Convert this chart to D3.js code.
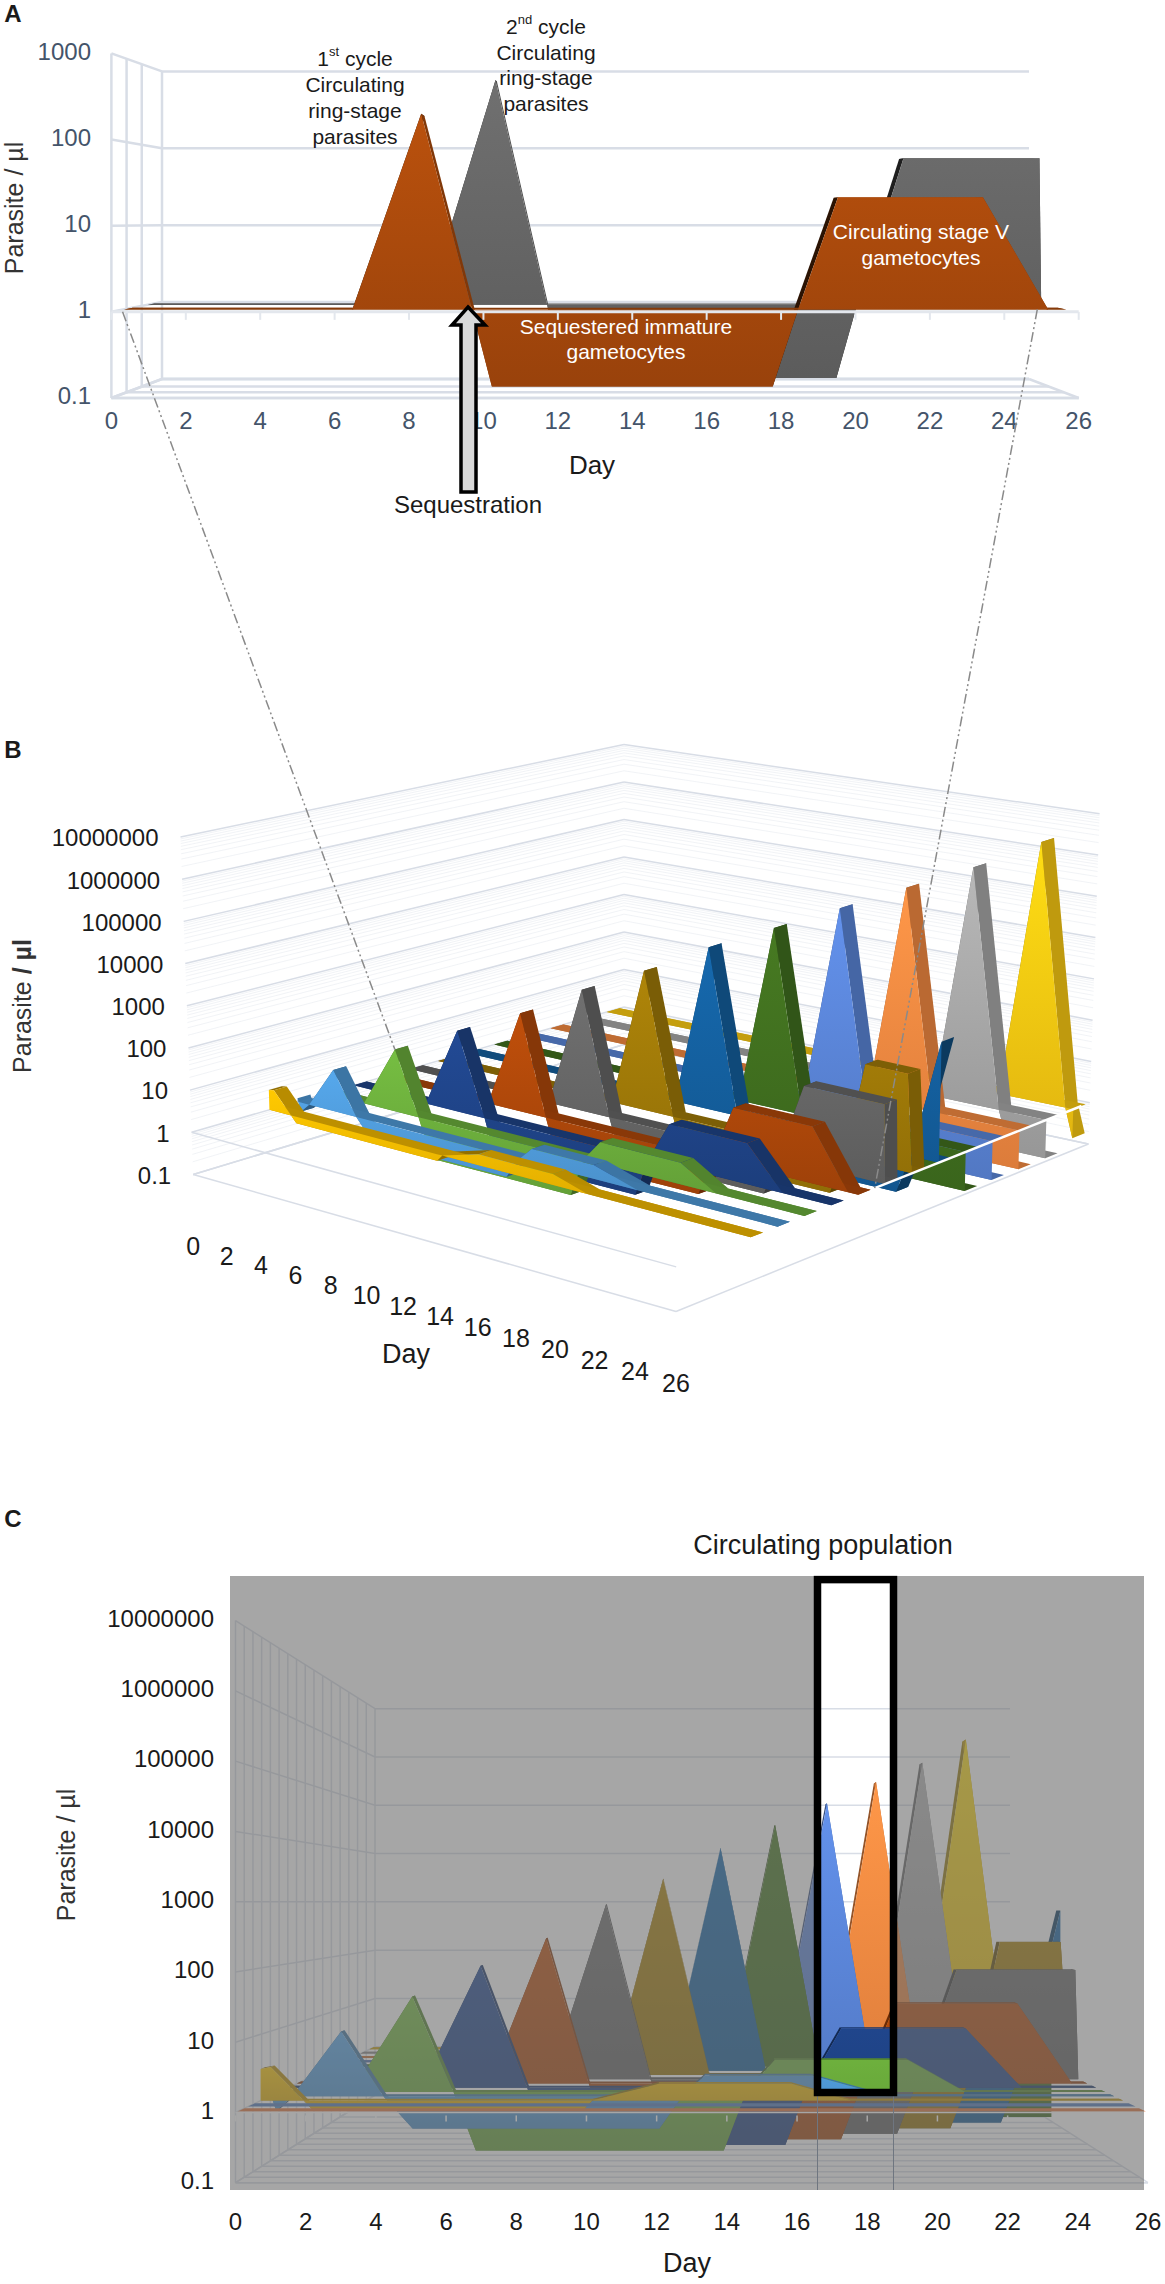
<!DOCTYPE html>
<html>
<head>
<meta charset="utf-8">
<script src="https://cdnjs.cloudflare.com/ajax/libs/d3/7.8.5/d3.min.js"></script>
<style>
body { margin: 0; background: #fff; }
svg { display: block; }
text { font-family: "Liberation Sans", Arial, sans-serif; }
</style>
</head>
<body>
<svg width="1165" height="2284"></svg>
<script>
// tick labels
const dayTicks = [0, 2, 4, 6, 8, 10, 12, 14, 16, 18, 20, 22, 24, 26];
const decadesA = [0.1, 1, 10, 100, 1000];
const decadesB = [0.1, 1, 10, 100, 1000, 10000, 100000, 1000000, 10000000];

// panel A, [day, parasites per ul]
const orangeA = [[0, 1], [6.3, 1], [8.2, 215], [9.6, 1], [10.15, 0.12], [17.9, 0.12], [18.6, 1], [19.7, 21.7], [23.7, 21.7], [25.5, 1], [26, 1]];
const greyA = [[0, 1], [8.1, 1], [10.1, 676], [11.6, 1], [12, 0.12], [20, 0.12], [20.6, 1], [21.95, 70], [25.9, 70], [25.95, 1], [26, 1]];

// panels B and C, one cohort per array, front to back
const cohort0 = [[0, 3], [0.3, 3.2], [1.3, 1], [1.6, 0.7], [9.7, 0.7], [10, 1], [12, 1.8], [16, 1.8], [17.8, 1], [26, 1]];
const cohort1 = [[0, 1.2], [0.2, 0.6], [0.7, 1], [2.2, 10], [3.5, 1], [4.4, 0.32], [12, 0.32], [12.7, 1], [13.4, 2.1], [16.7, 2.1], [19, 1], [26, 1]];
const cohort2 = [[0, 1], [2.3, 1], [4.2, 32], [5.5, 1], [6.2, 0.12], [14, 0.12], [14.7, 1], [15.6, 3.2], [19.8, 3.2], [21.6, 1], [26, 1]];
const cohort3 = [[0, 1], [4.3, 1], [6.2, 93], [7.7, 1], [8.3, 0.12], [16, 0.12], [16.7, 1], [17.8, 9], [21.8, 9], [23.6, 1], [26, 1]];
const cohort4 = [[0, 1], [6.3, 1], [8.2, 250], [9.6, 1], [10.2, 0.12], [17.9, 0.12], [18.6, 1], [19.7, 21], [23.7, 21], [25.5, 1], [26, 1]];
const cohort5 = [[0, 1], [8.2, 1], [10.1, 900], [11.6, 1], [12.2, 0.12], [19.9, 0.12], [20.6, 1], [21.9, 70], [25.9, 70], [26, 1]];
const cohort6 = [[0, 1], [10.2, 1], [12, 2500], [13.6, 1], [14.2, 0.12], [21.9, 0.12], [22.6, 1], [23.6, 200], [25.7, 200], [26, 1]];
const cohort7 = [[0, 1], [12.2, 1], [14, 9000], [15.6, 1], [16.2, 0.12], [23.9, 0.12], [24.6, 1], [26, 700]];
const cohort8 = [[0, 1], [14.2, 1], [16, 25000], [17.6, 1], [18.2, 0.12], [26, 0.12]];
const cohort9 = [[0, 1], [16.2, 1], [18, 70000], [19.6, 1], [20.2, 0.12], [26, 0.12]];
const cohort10 = [[0, 1], [18.2, 1], [20, 200000], [21.6, 1], [22.2, 0.12], [26, 0.12]];
const cohort11 = [[0, 1], [20.2, 1], [22, 560000], [23.6, 1], [24.2, 0.12], [26, 0.12]];
const cohort12 = [[0, 1], [22.2, 1], [24, 2000000], [25.6, 1], [26, 0.2]];
const cohorts = [cohort0, cohort1, cohort2, cohort3, cohort4, cohort5, cohort6, cohort7, cohort8, cohort9, cohort10, cohort11, cohort12];
const cohortColors = ["#f2b800", "#4f9ad8", "#6cae3c", "#1f4488", "#b0480a", "#666666", "#a07a08", "#14609f", "#41701f", "#5b86d9", "#f58a42", "#a8a8a8", "#fbcb12"];
const cohortDepth = [0.18, 0.245, 0.31, 0.375, 0.44, 0.505, 0.57, 0.635, 0.7, 0.765, 0.83, 0.895, 0.96];

// thin bands in front of the first cohort, only seen from the front in C
const frontBandDepth = [0.09, 0.015];
const frontBandColors = ["#4f78b8", "#e0743a"];

var svg = d3.select("svg");
var defs = svg.append("defs");
var gridColor = "#d8dde6";

function lerp(a, b, t) { return a + (b - a) * t; }

// box corners: L day 0 front, F day 26 front, B day 0 back, R day 26 back
// k > 1 squeezes the early days, the corner view in B is foreshortened that way
function makeProjection(corners, domain, k) {
    k = k || 1;
    var sc = {};
    Object.keys(corners).forEach(function (c) {
        var o = corners[c];
        sc[c] = {
            x: d3.scaleLog().domain(domain).range([o[0], o[1]]),
            y: d3.scaleLog().domain(domain).range([o[2], o[3]])
        };
    });
    var u = d3.scaleLinear().domain([0, 26]).range([0, 1]);
    return function (day, v, t) {
        var f = u(day) / (k - (k - 1) * u(day));
        return [
            lerp(lerp(sc.L.x(v), sc.F.x(v), f), lerp(sc.B.x(v), sc.R.x(v), f), t),
            lerp(lerp(sc.L.y(v), sc.F.y(v), f), lerp(sc.B.y(v), sc.R.y(v), f), t)
        ];
    };
}

var lineGen = d3.line();

function seg(g, a, b, color, width, opacity) {
    g.append("path")
        .attr("d", lineGen([a, b]))
        .attr("stroke", color)
        .attr("stroke-width", width)
        .attr("stroke-opacity", opacity === undefined ? 1 : opacity)
        .attr("fill", "none");
}

function drawGrid(g, proj, decades, opts) {
    var low = decades[0];
    var high = decades[decades.length - 1];
    var w = opts.width;

    if (opts.minor) {
        for (var i = 0; i < decades.length - 1; i++) {
            d3.range(2, 10).forEach(function (m) {
                var v = decades[i] * m;
                seg(g, proj(0, v, 0), proj(0, v, 1), gridColor, 1, 0.35);
                seg(g, proj(0, v, 1), proj(26, v, 1), gridColor, 1, 0.35);
            });
        }
    }
    decades.forEach(function (v) {
        seg(g, proj(0, v, 0), proj(0, v, 1), gridColor, w);
        seg(g, proj(0, v, 1), proj(26, v, 1), gridColor, w);
    });
    opts.depths.forEach(function (t) {
        if (opts.wallLines) seg(g, proj(0, low, t), proj(0, high, t), gridColor, w);
        seg(g, proj(0, low, t), proj(26, low, t), gridColor, w);
    });
    seg(g, proj(0, low, 0), proj(26, low, 0), gridColor, w);
    seg(g, proj(26, low, 0), proj(26, low, 1), gridColor, w);
    seg(g, proj(0, low, 1), proj(26, low, 1), gridColor, w);
    seg(g, proj(0, low, 0), proj(0, low, 1), gridColor, w);
}

function gradient(id, color) {
    var c = d3.color(color);
    var grad = defs.append("linearGradient").attr("id", id)
        .attr("x1", 0).attr("y1", 0).attr("x2", 0).attr("y2", 1);
    grad.append("stop").attr("offset", "0%").attr("stop-color", c.brighter(0.25));
    grad.append("stop").attr("offset", "100%").attr("stop-color", c.darker(0.3));
    return "url(#" + id + ")";
}

function shade(color, k) {
    var c = d3.rgb(color);
    return d3.rgb(c.r * k, c.g * k, c.b * k);
}

function drawRibbon(g, proj, pts, t0, t1, color, gradId, risingShade) {
    // slanted and flat top surfaces first, the front face covers what is hidden
    pts.slice(1).forEach(function (p, i) {
        var q = pts[i];
        var k = p[1] === q[1] ? 0.78 : (p[1] > q[1] ? risingShade : 0.76);
        g.append("path")
            .attr("d", lineGen([proj(q[0], q[1], t0), proj(p[0], p[1], t0), proj(p[0], p[1], t1), proj(q[0], q[1], t1)]) + "Z")
            .attr("fill", shade(color, k));
    });
    g.append("path")
        .attr("d", lineGen([proj(0, 1, t0), proj(26, 1, t0), proj(26, 1, t1), proj(0, 1, t1)]) + "Z")
        .attr("fill", shade(color, 0.78));
    var area = d3.area()
        .x0(function (d) { return proj(d[0], 1, t0)[0]; })
        .y0(function (d) { return proj(d[0], 1, t0)[1]; })
        .x1(function (d) { return proj(d[0], d[1], t0)[0]; })
        .y1(function (d) { return proj(d[0], d[1], t0)[1]; });
    g.append("path").attr("d", area(pts)).attr("fill", gradient(gradId, color));
}

function label(g, x, y, str, o) {
    o = o || {};
    return g.append("text")
        .attr("x", x).attr("y", y)
        .attr("font-size", o.size || 24)
        .attr("font-weight", o.weight || null)
        .attr("fill", o.color || "#1a1a1a")
        .attr("text-anchor", o.anchor || "middle")
        .attr("dominant-baseline", "middle")
        .text(str);
}

function yTitle(g, x, y, boldUnit) {
    var t = g.append("text")
        .attr("transform", "translate(" + x + "," + y + ") rotate(-90)")
        .attr("font-size", 25)
        .attr("fill", "#333")
        .attr("text-anchor", "middle")
        .attr("dominant-baseline", "middle");
    t.append("tspan").text("Parasite ");
    t.append("tspan").attr("font-weight", boldUnit ? "bold" : null).text("/ µl");
}

// ---------- panel A ----------
var projA = makeProjection({
    L: [111.4, 111.4, 398, 53.4],
    F: [1078.7, 1078.7, 398, 53.4],
    B: [162, 162, 379, 71.4],
    R: [1029, 1029, 379, 71.4]
}, [0.1, 1000]);

var gA = svg.append("g");
drawGrid(gA, projA, decadesA, { width: 2.5, depths: [0, 0.3, 0.6, 1], wallLines: true });
drawRibbon(gA, projA, greyA, 0.72, 0.85, "#666666", "gradA1", 0.3);
drawRibbon(gA, projA, orangeA, 0.25, 0.42, "#aa4a0c", "gradA0", 0.25);

seg(gA, projA(0, 1, 0), projA(26, 1, 0), "#e3e7ed", 3);
dayTicks.forEach(function (d) {
    var p = projA(d, 1, 0);
    seg(gA, p, [p[0], p[1] + 8], "#e3e7ed", 2);
    label(gA, p[0], 423, d, { color: "#44546a" });
});
decadesA.forEach(function (v) {
    label(gA, 91, projA(0, v, 0)[1], v, { anchor: "end", color: "#44546a" });
});
yTitle(gA, 16, 208, false);
label(gA, 592, 467, "Day", { size: 26 });
label(gA, 13, 16, "A", { weight: "bold" });

var first = label(gA, 355, 60, "1", { size: 21 });
first.append("tspan").attr("font-size", 13).attr("dy", -7).text("st");
first.append("tspan").attr("dy", 7).text(" cycle");
["Circulating", "ring-stage", "parasites"].forEach(function (s, i) {
    label(gA, 355, 86 + i * 26, s, { size: 21 });
});
var second = label(gA, 546, 28, "2", { size: 21 });
second.append("tspan").attr("font-size", 13).attr("dy", -7).text("nd");
second.append("tspan").attr("dy", 7).text(" cycle");
["Circulating", "ring-stage", "parasites"].forEach(function (s, i) {
    label(gA, 546, 54 + i * 25.5, s, { size: 21 });
});
label(gA, 921, 233, "Circulating stage V", { size: 21, color: "#fff" });
label(gA, 921, 259, "gametocytes", { size: 21, color: "#fff" });
label(gA, 626, 328, "Sequestered immature", { size: 21, color: "#fff" });
label(gA, 626, 353, "gametocytes", { size: 21, color: "#fff" });

gA.append("path")
    .attr("d", lineGen([[468, 307], [485, 325], [476, 325], [476, 492], [461, 492], [461, 325], [452, 325]]) + "Z")
    .attr("fill", "#d9d9d9").attr("stroke", "#000").attr("stroke-width", 3.5);
label(gA, 468, 507, "Sequestration");

// ---------- panel B ----------
var projB = makeProjection({
    L: [193.2, 180.5, 1174.5, 837],
    F: [676, 677.6, 1311.5, 954.4],
    B: [624, 624, 1044.5, 744.6],
    R: [1088.4, 1099.6, 1144, 813.75]
}, [0.1, 10000000], 1.115);

var gB = svg.append("g");
drawGrid(gB, projB, decadesB, { width: 1.5, depths: [], minor: true });
seg(gB, projB(0, 1, 0), projB(26, 1, 0), gridColor, 1.5);
d3.range(cohorts.length - 1, -1, -1).forEach(function (i) {
    drawRibbon(gB, projB, cohorts[i], cohortDepth[i], cohortDepth[i] + 0.03, cohortColors[i], "gradB" + i, 0.6);
});
seg(gB, projB(26, 1, 0.48), projB(26, 1, 0.98), "#fff", 2.5);

decadesB.forEach(function (v) {
    var p = projB(0, v, 0);
    label(gB, p[0] - 22, p[1] + 3, v, { anchor: "end" });
});
dayTicks.forEach(function (d) {
    var p = projB(d, 0.1, 0);
    label(gB, p[0], p[1] + 74, d, { size: 25 });
});
label(gB, 406, 1356, "Day", { size: 27 });
yTitle(gB, 24, 1006, true);
label(gB, 13, 752, "B", { weight: "bold" });

// dash-dot lines from panel A down to panel B
var connector = svg.append("g");
[[projA(0.3, 1, 0), projB(4.2, 32, 0.31)], [projA(25.2, 1, 0.25), projB(26, 1, 0.48)]].forEach(function (pair) {
    connector.append("path")
        .attr("d", lineGen(pair))
        .attr("fill", "none")
        .attr("stroke", "#8a8a8a")
        .attr("stroke-width", 1.5)
        .attr("stroke-dasharray", "10 3 2 3 2 3");
});

// ---------- panel C ----------
var projC = makeProjection({
    L: [235.5, 235.5, 2182.7, 1620.6],
    F: [1148, 1148, 2182.7, 1620.6],
    B: [375, 375, 2095, 1708.7],
    R: [1010, 1010, 2095, 1708.7]
}, [0.1, 10000000]);

var gC = svg.append("g");
drawGrid(gC, projC, decadesB, { width: 1.5, depths: d3.range(0, 1.01, 1 / 16), wallLines: true });
d3.range(cohorts.length - 1, -1, -1).forEach(function (i) {
    drawRibbon(gC, projC, cohorts[i], cohortDepth[i], cohortDepth[i] + 0.03, cohortColors[i], "gradC" + i, 0.6);
});
frontBandDepth.forEach(function (t, i) {
    gC.append("path")
        .attr("d", lineGen([projC(0, 1, t), projC(26, 1, t), projC(26, 1, t + 0.05), projC(0, 1, t + 0.05)]) + "Z")
        .attr("fill", frontBandColors[i]);
});
seg(gC, projC(0, 1, 0), projC(26, 1, 0), "#fff", 1.5);
dayTicks.forEach(function (d) {
    var p = projC(d, 1, 0);
    seg(gC, [p[0], p[1] + 3], [p[0], p[1] + 9], "#fff", 1.5);
});

// grey veil with a window on the circulating population
var veil = { x0: 230, x1: 1144, y0: 1576, y1: 2190 };
var win = { x0: 817.5, x1: 893.5, y0: 1579.6, y1: 2092.5 };
gC.append("path")
    .attr("d", "M" + veil.x0 + "," + veil.y0 + "H" + veil.x1 + "V" + veil.y1 + "H" + veil.x0 + "Z" +
        "M" + win.x0 + "," + win.y0 + "H" + win.x1 + "V" + win.y1 + "H" + win.x0 + "Z")
    .attr("fill", "#6b6b6b")
    .attr("fill-opacity", 0.6)
    .attr("fill-rule", "evenodd");
seg(gC, [win.x0, win.y1], [win.x0, veil.y1], "#6f7680", 1);
seg(gC, [win.x1, win.y1], [win.x1, veil.y1], "#6f7680", 1);
gC.append("rect")
    .attr("x", win.x0).attr("y", win.y0)
    .attr("width", win.x1 - win.x0).attr("height", win.y1 - win.y0)
    .attr("fill", "none").attr("stroke", "#000").attr("stroke-width", 7.5);

decadesB.forEach(function (v) {
    label(gC, 214, projC(0, v, 0)[1], v, { anchor: "end" });
});
dayTicks.forEach(function (d) {
    label(gC, projC(d, 1, 0)[0], 2224, d);
});
label(gC, 687, 2265, "Day", { size: 27 });
yTitle(gC, 68, 1855, false);
label(gC, 823, 1547, "Circulating population", { size: 27 });
label(gC, 13, 1521, "C", { weight: "bold" });
</script>
</body>
</html>
